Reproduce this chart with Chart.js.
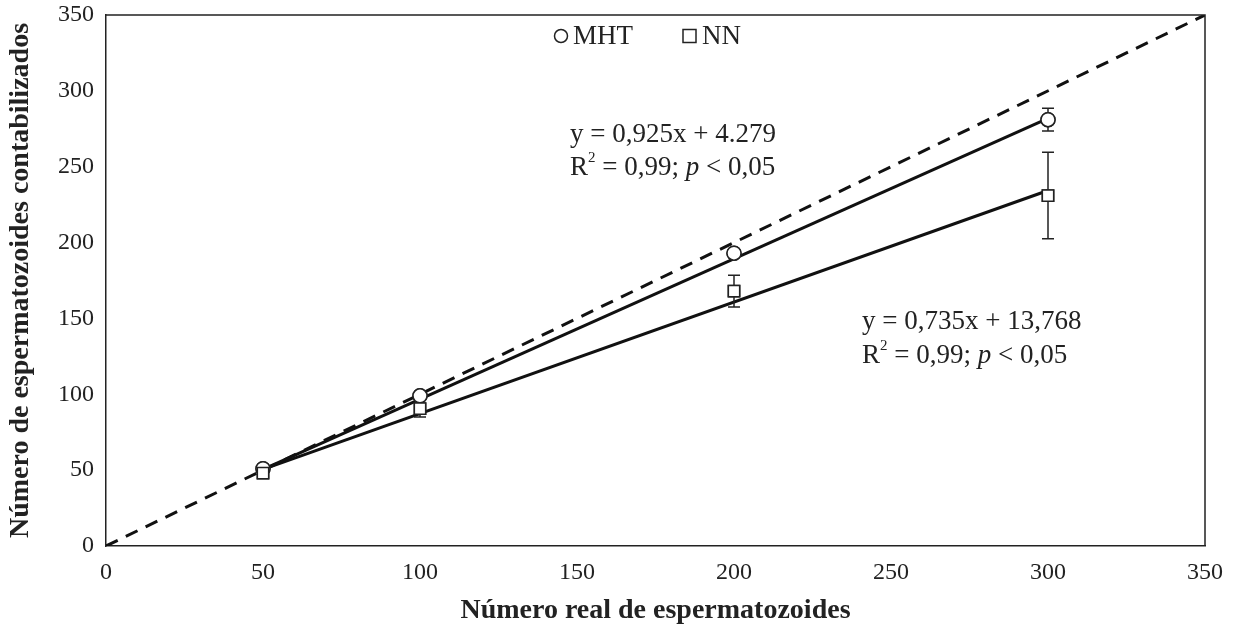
<!DOCTYPE html>
<html>
<head>
<meta charset="utf-8">
<script src="https://cdn.jsdelivr.net/npm/chart.js@4"></script>
<style>
  html, body { margin: 0; padding: 0; background: #fff; }
  #wrap { width: 1237px; height: 632px; }
</style>
</head>
<body>
<div id="wrap"><canvas id="chart" width="1237" height="632"></canvas></div>
<script>
// real counts (x) and counted values
var realCount = [50, 100, 200, 300];
var mhtValues = [51, 99, 193, 281];
var mhtErr = [0, 0, 0, 7.5];
var nnValues = [48, 90.5, 168, 231];
var nnErr = [0, 5.5, 10.5, 28.5];

// regression line end points
var trendX = [50, 300];
var mhtTrend = [50.5, 281.8];
var nnTrend = [50.5, 234.3];

// 1:1 reference line
var identX = [0, 350];
var identY = [0, 350];

var xTicks = [0, 50, 100, 150, 200, 250, 300, 350];
var yTicks = [0, 50, 100, 150, 200, 250, 300, 350];

function pts(xs, ys) {
  return xs.map(function(x, i) { return { x: x, y: ys[i] }; });
}

var serif = "'Liberation Serif', 'Times New Roman', serif";

var extras = {
  id: 'extras',
  afterDatasetsDraw: function(chart) {
    var ctx = chart.ctx, xs = chart.scales.x, ys = chart.scales.y, a = chart.chartArea;
    ctx.save();
    // box border top/right
    ctx.strokeStyle = '#222';
    ctx.lineWidth = 1.5;
    ctx.beginPath();
    ctx.moveTo(a.left, a.top);
    ctx.lineTo(a.right, a.top);
    ctx.lineTo(a.right, a.bottom);
    ctx.stroke();

    // error bars
    function bars(vals, errs) {
      realCount.forEach(function(x, i) {
        if (!errs[i]) return;
        var px = xs.getPixelForValue(x);
        var top = ys.getPixelForValue(vals[i] + errs[i]);
        var bot = ys.getPixelForValue(vals[i] - errs[i]);
        ctx.lineWidth = 1.5;
        ctx.beginPath();
        ctx.moveTo(px, top); ctx.lineTo(px, bot);
        ctx.moveTo(px - 6, top); ctx.lineTo(px + 6, top);
        ctx.moveTo(px - 6, bot); ctx.lineTo(px + 6, bot);
        ctx.stroke();
      });
    }
    bars(mhtValues, mhtErr);
    bars(nnValues, nnErr);

    // redraw markers over error bars
    chart.getDatasetMeta(0).data.forEach(function(p) { p.draw(ctx, a); });
    chart.getDatasetMeta(1).data.forEach(function(p) { p.draw(ctx, a); });

    // equations
    ctx.fillStyle = '#222';
    ctx.textBaseline = 'middle';
    var fs = 27;
    function eq(xv, yv, line1, r2y) {
      var px = xs.getPixelForValue(xv);
      var py = ys.getPixelForValue(yv);
      ctx.font = fs + 'px ' + serif;
      ctx.fillText(line1, px, py);
      var py2 = ys.getPixelForValue(r2y);
      var t = 'R';
      ctx.fillText(t, px, py2);
      var w = ctx.measureText(t).width;
      ctx.font = '15px ' + serif;
      ctx.fillText('2', px + w, py2 - 10);
      var w2 = ctx.measureText('2').width;
      ctx.font = fs + 'px ' + serif;
      var s1 = ' = 0,99; ';
      ctx.fillText(s1, px + w + w2, py2);
      var w3 = ctx.measureText(s1).width;
      ctx.font = 'italic ' + fs + 'px ' + serif;
      ctx.fillText('p', px + w + w2 + w3, py2);
      var w4 = ctx.measureText('p').width;
      ctx.font = fs + 'px ' + serif;
      ctx.fillText(' < 0,05', px + w + w2 + w3 + w4, py2);
    }
    eq(147.8, 271, 'y = 0,925x + 4.279', 249);
    eq(240.8, 147.7, 'y = 0,735x + 13,768', 125.5);

    // legend
    var ly = 36;
    ctx.strokeStyle = '#222';
    ctx.lineWidth = 1.5;
    ctx.beginPath();
    ctx.arc(561, ly, 6.5, 0, Math.PI * 2);
    ctx.stroke();
    ctx.strokeRect(683, ly - 6.5, 13, 13);
    ctx.font = fs + 'px ' + serif;
    ctx.fillText('MHT', 573, ly + 1);
    ctx.fillText('NN', 702, ly + 1);
    ctx.restore();
  }
};

new Chart(document.getElementById('chart'), {
  type: 'scatter',
  data: {
    datasets: [
      {
        label: 'MHT',
        data: pts(realCount, mhtValues),
        pointStyle: 'circle',
        pointRadius: 7,
        pointBackgroundColor: '#fff',
        pointBorderColor: '#222',
        pointBorderWidth: 1.5,
        showLine: false,
        order: 0
      },
      {
        label: 'NN',
        data: pts(realCount, nnValues),
        pointStyle: 'rect',
        pointRadius: 8,
        pointBackgroundColor: '#fff',
        pointBorderColor: '#222',
        pointBorderWidth: 1.5,
        showLine: false,
        order: 1
      },
      {
        label: 'MHT ajuste',
        data: pts(trendX, mhtTrend),
        showLine: true,
        borderColor: '#111',
        borderWidth: 3,
        pointRadius: 0,
        order: 3
      },
      {
        label: 'NN ajuste',
        data: pts(trendX, nnTrend),
        showLine: true,
        borderColor: '#111',
        borderWidth: 3,
        pointRadius: 0,
        order: 3
      },
      {
        label: '1:1',
        data: pts(identX, identY),
        showLine: true,
        borderColor: '#111',
        borderWidth: 3,
        borderDash: [13, 9],
        pointRadius: 0,
        order: 4
      }
    ]
  },
  options: {
    responsive: false,
    animation: false,
    layout: { padding: { top: 15, right: 32, left: 0, bottom: 0 } },
    plugins: {
      legend: { display: false },
      tooltip: { enabled: false }
    },
    scales: {
      x: {
        type: 'linear',
        min: 0, max: 350,
        afterBuildTicks: function(s) { s.ticks = xTicks.map(function(v) { return { value: v }; }); },
        afterFit: function(s) { s.height = 86; s.paddingLeft = 0; s.paddingRight = 0; },
        grid: { display: false, drawOnChartArea: false, drawTicks: true, tickLength: 7, tickColor: '#222' },
        border: { color: '#222', width: 1.5 },
        ticks: { color: '#222', font: { family: serif, size: 24 }, padding: 5, maxRotation: 0 },
        title: { display: true, text: 'Número real de espermatozoides', color: '#222', font: { family: serif, size: 28, weight: 'bold' }, padding: { top: 4 } }
      },
      y: {
        type: 'linear',
        min: 0, max: 350,
        afterBuildTicks: function(s) { s.ticks = yTicks.map(function(v) { return { value: v }; }); },
        afterFit: function(s) { s.width = 106; s.paddingTop = 0; s.paddingBottom = 0; },
        grid: { display: false, drawOnChartArea: false, drawTicks: true, tickLength: 7, tickColor: '#222' },
        border: { color: '#222', width: 1.5 },
        ticks: { color: '#222', font: { family: serif, size: 24 }, padding: 5 },
        title: { display: true, text: 'Número de espermatozoides contabilizados', color: '#222', font: { family: serif, size: 28, weight: 'bold' }, padding: { bottom: 0 } }
      }
    }
  },
  plugins: [extras]
});
</script>
</body>
</html>
